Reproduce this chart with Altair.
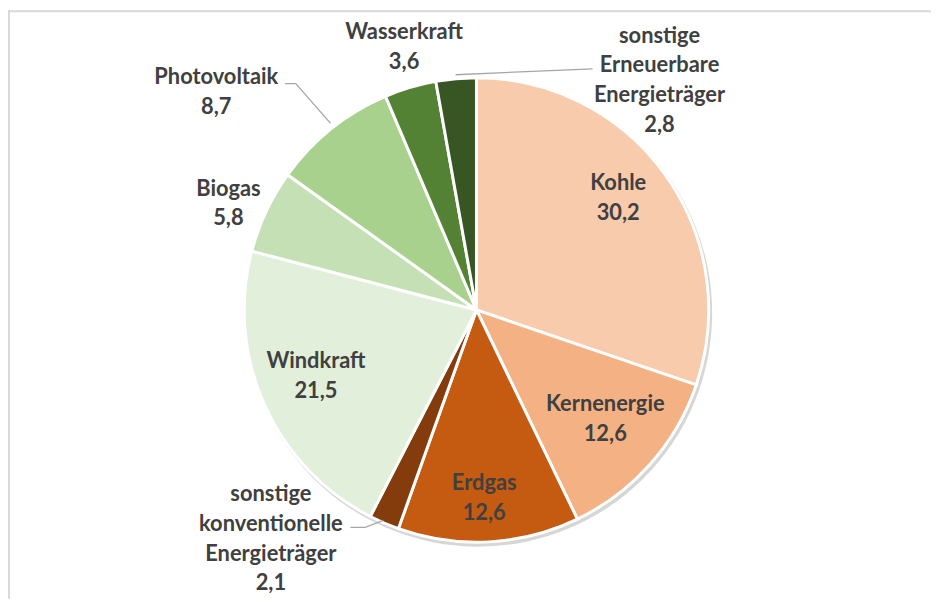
import altair as alt
import pandas as pd
import numpy as np

# ---- data ----
categories = ["Kohle", "Kernenergie", "Erdgas", "sonstige konventionelle Energieträger",
              "Windkraft", "Biogas", "Photovoltaik", "Wasserkraft",
              "sonstige Erneuerbare Energieträger"]
label_names = ["Kohle", "Kernenergie", "Erdgas", "sonstige\nkonventionelle\nEnergieträger",
               "Windkraft", "Biogas", "Photovoltaik", "Wasserkraft",
               "sonstige\nErneuerbare\nEnergieträger"]
values = [30.2, 12.6, 12.6, 2.1, 21.5, 5.8, 8.7, 3.6, 2.8]
value_text = ["30,2", "12,6", "12,6", "2,1", "21,5", "5,8", "8,7", "3,6", "2,8"]
colors = ["#F8CBAD", "#F4B183", "#C55A11", "#843C0C", "#E2EFDA",
          "#C5E0B4", "#A9D18E", "#548235", "#375623"]

# ---- layout / style ----
W, H = 930, 593
CX, CY = 472, 302
R = 234
LINE_H = 30
label_radius = [182, 170, 190, 310, 175, 272, 342, 275, 296]
label_nudge_deg = [-2.7, -1.3, 0.7, 18.5, 1.6, -1.9, -11.3, 1.2, 43.6]
FONT = "Lato"
FONT_SIZE = 22
TEXT_COLOR = "#404040"

total = float(sum(values))
cum = np.cumsum(values)
mid = cum - np.array(values) / 2.0
lpos = (mid + np.array(label_nudge_deg) / 360.0 * total) % total

labels_full = [f"{n}\n{v}" for n, v in zip(label_names, value_text)]
df = pd.DataFrame({
    "cat": categories,
    "value": values,
    "order": list(range(len(values))),
    "label": labels_full,
    "nlines": [s.count("\n") + 1 for s in labels_full],
    "lpos": lpos,
    "lr": label_radius,
})

# leader lines (pixel offsets from pie centre, y up)
leaders = [
    ("sE", [(-21, 237), (117, 243)]),
    ("pv", [(-147, 188), (-182, 228), (-193, 228)]),
    ("sk", [(-94, -212), (-112, -219), (-127, -219)]),
]
lrows = []
for g, pts in leaders:
    for i, (x, y) in enumerate(pts):
        lrows.append({"g": g, "i": i, "x": x, "y": y})
ldf = pd.DataFrame(lrows)

theta_scale = alt.Scale(domain=[0, total])

shadow = alt.Chart(df).mark_arc(radius=R + 1.5, color="#000000", opacity=0.16).encode(
    theta=alt.Theta("sum(value):Q", scale=theta_scale),
    x=alt.value(CX + 2), y=alt.value(CY + 3),
)

pie = alt.Chart(df).mark_arc(radius=R, stroke="white", strokeWidth=3).encode(
    theta=alt.Theta("value:Q", stack=True, scale=theta_scale),
    order=alt.Order("order:Q"),
    color=alt.Color("cat:N", scale=alt.Scale(domain=categories, range=colors), legend=None),
    x=alt.value(CX), y=alt.value(CY),
)


def label_layer(n):
    return alt.Chart(df).transform_filter(alt.datum.nlines == n).mark_text(
        font=FONT, fontSize=FONT_SIZE, fontWeight="bold", color=TEXT_COLOR,
        lineBreak="\n", lineHeight=LINE_H, align="center", baseline="middle",
        dy=-(n - 1) * LINE_H / 2.0,
    ).encode(
        theta=alt.Theta("lpos:Q", scale=theta_scale),
        radius=alt.Radius("lr:Q", scale=None),
        text="label:N",
        x=alt.value(CX), y=alt.value(CY),
    )


lines = alt.Chart(ldf).mark_line(color="#A6A6A6", strokeWidth=1.3).encode(
    x=alt.X("x:Q", scale=alt.Scale(domain=[-CX, W - CX], nice=False, zero=False), axis=None),
    y=alt.Y("y:Q", scale=alt.Scale(domain=[-(H - CY), CY], nice=False, zero=False), axis=None),
    detail="g:N",
    order="i:Q",
)

one = pd.DataFrame({"a": [0]})
frame_top = alt.Chart(one).mark_rule(color="#D9D9D9", strokeWidth=2).encode(
    x=alt.value(0), x2=alt.value(W), y=alt.value(1))
frame_left = alt.Chart(one).mark_rule(color="#D9D9D9", strokeWidth=2).encode(
    x=alt.value(1), y=alt.value(0), y2=alt.value(H))

chart = alt.layer(frame_top, frame_left, shadow, pie, lines,
                  label_layer(2), label_layer(4)).properties(
    width=W, height=H, padding=0, autosize=alt.AutoSizeParams(type="none"),
).configure_view(stroke=None)

chart.save("out.html", embed_options={"renderer": "svg", "actions": False})
